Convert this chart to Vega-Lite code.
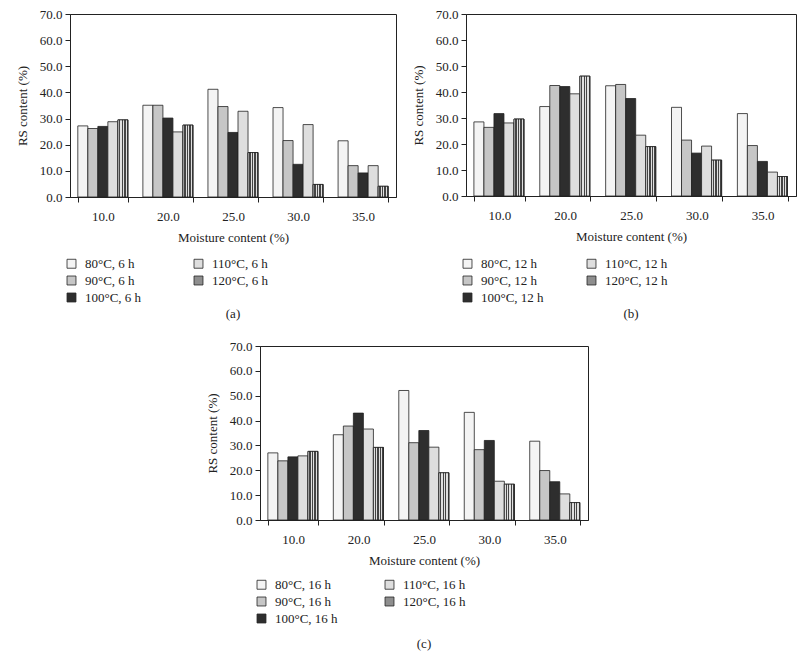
{
  "$schema": "https://vega.github.io/schema/vega-lite/v6.json",
  "background": "white",
  "padding": {"left": 15, "top": 7, "right": 5, "bottom": 5},
  "config": {
    "font": "Liberation Serif, Times New Roman, serif",
    "view": {"stroke": "#222", "strokeWidth": 1},
    "axis": {"labelFont": "Liberation Serif, Times New Roman, serif", "titleFont": "Liberation Serif, Times New Roman, serif", "labelFontSize": 13, "titleFontSize": 13, "labelColor": "#222", "titleColor": "#222", "titleFontWeight": "normal", "domainColor": "#222", "tickColor": "#222", "grid": false},
    "legend": {"labelFont": "Liberation Serif, Times New Roman, serif", "labelFontSize": 13, "labelColor": "#222"},
    "title": {"font": "Liberation Serif, Times New Roman, serif", "fontSize": 13, "fontWeight": "normal", "color": "#222"}
  },
  "datasets": {
    "rs": [
      {"p": "a", "m": "10.0", "s": "80", "v": 27.2}, {"p": "a", "m": "10.0", "s": "90", "v": 26.2}, {"p": "a", "m": "10.0", "s": "100", "v": 27.0}, {"p": "a", "m": "10.0", "s": "110", "v": 28.8}, {"p": "a", "m": "10.0", "s": "120", "v": 29.5},
      {"p": "a", "m": "20.0", "s": "80", "v": 35.1}, {"p": "a", "m": "20.0", "s": "90", "v": 35.1}, {"p": "a", "m": "20.0", "s": "100", "v": 30.2}, {"p": "a", "m": "20.0", "s": "110", "v": 24.9}, {"p": "a", "m": "20.0", "s": "120", "v": 27.5},
      {"p": "a", "m": "25.0", "s": "80", "v": 41.2}, {"p": "a", "m": "25.0", "s": "90", "v": 34.6}, {"p": "a", "m": "25.0", "s": "100", "v": 24.7}, {"p": "a", "m": "25.0", "s": "110", "v": 32.8}, {"p": "a", "m": "25.0", "s": "120", "v": 17.0},
      {"p": "a", "m": "30.0", "s": "80", "v": 34.2}, {"p": "a", "m": "30.0", "s": "90", "v": 21.6}, {"p": "a", "m": "30.0", "s": "100", "v": 12.5}, {"p": "a", "m": "30.0", "s": "110", "v": 27.7}, {"p": "a", "m": "30.0", "s": "120", "v": 4.8},
      {"p": "a", "m": "35.0", "s": "80", "v": 21.5}, {"p": "a", "m": "35.0", "s": "90", "v": 12.0}, {"p": "a", "m": "35.0", "s": "100", "v": 9.2}, {"p": "a", "m": "35.0", "s": "110", "v": 12.0}, {"p": "a", "m": "35.0", "s": "120", "v": 4.1},
      {"p": "b", "m": "10.0", "s": "80", "v": 28.5}, {"p": "b", "m": "10.0", "s": "90", "v": 26.4}, {"p": "b", "m": "10.0", "s": "100", "v": 31.7}, {"p": "b", "m": "10.0", "s": "110", "v": 28.1}, {"p": "b", "m": "10.0", "s": "120", "v": 29.6},
      {"p": "b", "m": "20.0", "s": "80", "v": 34.4}, {"p": "b", "m": "20.0", "s": "90", "v": 42.5}, {"p": "b", "m": "20.0", "s": "100", "v": 42.1}, {"p": "b", "m": "20.0", "s": "110", "v": 39.3}, {"p": "b", "m": "20.0", "s": "120", "v": 46.1},
      {"p": "b", "m": "25.0", "s": "80", "v": 42.4}, {"p": "b", "m": "25.0", "s": "90", "v": 42.9}, {"p": "b", "m": "25.0", "s": "100", "v": 37.5}, {"p": "b", "m": "25.0", "s": "110", "v": 23.4}, {"p": "b", "m": "25.0", "s": "120", "v": 19.0},
      {"p": "b", "m": "30.0", "s": "80", "v": 34.1}, {"p": "b", "m": "30.0", "s": "90", "v": 21.5}, {"p": "b", "m": "30.0", "s": "100", "v": 16.5}, {"p": "b", "m": "30.0", "s": "110", "v": 19.2}, {"p": "b", "m": "30.0", "s": "120", "v": 13.8},
      {"p": "b", "m": "35.0", "s": "80", "v": 31.7}, {"p": "b", "m": "35.0", "s": "90", "v": 19.4}, {"p": "b", "m": "35.0", "s": "100", "v": 13.3}, {"p": "b", "m": "35.0", "s": "110", "v": 9.2}, {"p": "b", "m": "35.0", "s": "120", "v": 7.5},
      {"p": "c", "m": "10.0", "s": "80", "v": 27.0}, {"p": "c", "m": "10.0", "s": "90", "v": 23.8}, {"p": "c", "m": "10.0", "s": "100", "v": 25.4}, {"p": "c", "m": "10.0", "s": "110", "v": 25.8}, {"p": "c", "m": "10.0", "s": "120", "v": 27.6},
      {"p": "c", "m": "20.0", "s": "80", "v": 34.3}, {"p": "c", "m": "20.0", "s": "90", "v": 37.8}, {"p": "c", "m": "20.0", "s": "100", "v": 43.0}, {"p": "c", "m": "20.0", "s": "110", "v": 36.6}, {"p": "c", "m": "20.0", "s": "120", "v": 29.2},
      {"p": "c", "m": "25.0", "s": "80", "v": 52.1}, {"p": "c", "m": "25.0", "s": "90", "v": 31.1}, {"p": "c", "m": "25.0", "s": "100", "v": 36.0}, {"p": "c", "m": "25.0", "s": "110", "v": 29.3}, {"p": "c", "m": "25.0", "s": "120", "v": 19.0},
      {"p": "c", "m": "30.0", "s": "80", "v": 43.3}, {"p": "c", "m": "30.0", "s": "90", "v": 28.3}, {"p": "c", "m": "30.0", "s": "100", "v": 32.0}, {"p": "c", "m": "30.0", "s": "110", "v": 15.6}, {"p": "c", "m": "30.0", "s": "120", "v": 14.4},
      {"p": "c", "m": "35.0", "s": "80", "v": 31.7}, {"p": "c", "m": "35.0", "s": "90", "v": 19.9}, {"p": "c", "m": "35.0", "s": "100", "v": 15.4}, {"p": "c", "m": "35.0", "s": "110", "v": 10.5}, {"p": "c", "m": "35.0", "s": "120", "v": 7.0}
    ],
    "blank": [{"k": 1}]
  },
  "spacing": 17,
  "resolve": {"scale": {"fill": "independent"}, "legend": {"fill": "independent"}},
  "vconcat": [
    {
      "spacing": 14,
      "resolve": {"scale": {"fill": "independent"}, "legend": {"fill": "independent"}},
      "hconcat": [
        {
          "width": 326, "height": 183,
          "data": {"name": "rs"},
          "transform": [{"filter": "datum.p === 'a'"}],
          "title": {"text": "(a)", "orient": "bottom", "anchor": "middle", "frame": "group", "offset": 3},
          "encoding": {
            "x": {"field": "m", "type": "nominal", "sort": null, "scale": {"paddingInner": 0.23, "paddingOuter": 0.12}, "axis": {"title": "Moisture content (%)", "labelAngle": 0, "tickBand": "extent", "labelPadding": 8, "titlePadding": 8, "tickSize": 5}},
            "xOffset": {"field": "s", "type": "nominal", "scale": {"domain": ["80", "90", "100", "110", "120"], "paddingInner": 0, "paddingOuter": 0}},
            "y": {"field": "v", "type": "quantitative", "scale": {"domain": [0, 70]}, "axis": {"title": "RS content (%)", "values": [0, 10, 20, 30, 40, 50, 60, 70], "format": ".1f", "tickSize": 5, "labelPadding": 3, "titlePadding": 10}}
          },
          "layer": [
            {
              "mark": {"type": "bar", "stroke": "#222", "strokeWidth": 0.8},
              "encoding": {
                "fill": {"field": "s", "type": "nominal", "scale": {"domain": ["80", "110", "90", "120", "100"], "range": ["#f4f4f4", "#dedede", "#c6c6c6", "#8e8e8e", "#2e2e2e"]},
                  "legend": {"title": null, "orient": "none", "legendX": -5, "legendY": 243, "columns": 2, "direction": "horizontal", "columnPadding": 50, "rowPadding": 3, "symbolType": "square", "symbolSize": 80, "symbolStrokeColor": "#222", "symbolStrokeWidth": 0.8, "labelExpr": "datum.label + '°C, 6 h'", "labelOffset": 7}}
              }
            },
            {
              "transform": [{"filter": "datum.s === '120'"}],
              "mark": {"type": "bar", "stroke": "#222", "strokeWidth": 0.8, "fill": {"gradient": "linear", "x1": 0, "y1": 0, "x2": 1, "y2": 0, "stops": [{"offset": 0, "color": "#e0e0e0"}, {"offset": 0.12, "color": "#e0e0e0"}, {"offset": 0.12, "color": "#444"}, {"offset": 0.26, "color": "#444"}, {"offset": 0.26, "color": "#e0e0e0"}, {"offset": 0.37, "color": "#e0e0e0"}, {"offset": 0.37, "color": "#444"}, {"offset": 0.51, "color": "#444"}, {"offset": 0.51, "color": "#e0e0e0"}, {"offset": 0.62, "color": "#e0e0e0"}, {"offset": 0.62, "color": "#444"}, {"offset": 0.76, "color": "#444"}, {"offset": 0.76, "color": "#e0e0e0"}, {"offset": 0.87, "color": "#e0e0e0"}, {"offset": 0.87, "color": "#444"}, {"offset": 1, "color": "#444"}]}}
            }
          ]
        },
        {
          "width": 330, "height": 182,
          "data": {"name": "rs"},
          "transform": [{"filter": "datum.p === 'b'"}],
          "title": {"text": "(b)", "orient": "bottom", "anchor": "middle", "frame": "group", "offset": 3},
          "encoding": {
            "x": {"field": "m", "type": "nominal", "sort": null, "scale": {"paddingInner": 0.23, "paddingOuter": 0.12}, "axis": {"title": "Moisture content (%)", "labelAngle": 0, "tickBand": "extent", "labelPadding": 8, "titlePadding": 8, "tickSize": 5}},
            "xOffset": {"field": "s", "type": "nominal", "scale": {"domain": ["80", "90", "100", "110", "120"], "paddingInner": 0, "paddingOuter": 0}},
            "y": {"field": "v", "type": "quantitative", "scale": {"domain": [0, 70]}, "axis": {"title": "RS content (%)", "values": [0, 10, 20, 30, 40, 50, 60, 70], "format": ".1f", "tickSize": 5, "labelPadding": 3, "titlePadding": 10}}
          },
          "layer": [
            {
              "mark": {"type": "bar", "stroke": "#222", "strokeWidth": 0.8},
              "encoding": {
                "fill": {"field": "s", "type": "nominal", "scale": {"domain": ["80", "110", "90", "120", "100"], "range": ["#f4f4f4", "#dedede", "#c6c6c6", "#8e8e8e", "#2e2e2e"]},
                  "legend": {"title": null, "orient": "none", "legendX": -5, "legendY": 243, "columns": 2, "direction": "horizontal", "columnPadding": 41, "rowPadding": 3, "symbolType": "square", "symbolSize": 80, "symbolStrokeColor": "#222", "symbolStrokeWidth": 0.8, "labelExpr": "datum.label + '°C, 12 h'", "labelOffset": 7}}
              }
            },
            {
              "transform": [{"filter": "datum.s === '120'"}],
              "mark": {"type": "bar", "stroke": "#222", "strokeWidth": 0.8, "fill": {"gradient": "linear", "x1": 0, "y1": 0, "x2": 1, "y2": 0, "stops": [{"offset": 0, "color": "#e0e0e0"}, {"offset": 0.12, "color": "#e0e0e0"}, {"offset": 0.12, "color": "#444"}, {"offset": 0.26, "color": "#444"}, {"offset": 0.26, "color": "#e0e0e0"}, {"offset": 0.37, "color": "#e0e0e0"}, {"offset": 0.37, "color": "#444"}, {"offset": 0.51, "color": "#444"}, {"offset": 0.51, "color": "#e0e0e0"}, {"offset": 0.62, "color": "#e0e0e0"}, {"offset": 0.62, "color": "#444"}, {"offset": 0.76, "color": "#444"}, {"offset": 0.76, "color": "#e0e0e0"}, {"offset": 0.87, "color": "#e0e0e0"}, {"offset": 0.87, "color": "#444"}, {"offset": 1, "color": "#444"}]}}
            }
          ]
        }
      ]
    },
    {
      "spacing": 14,
      "resolve": {"scale": {"fill": "independent"}, "legend": {"fill": "independent"}},
      "hconcat": [
        {
          "width": 121, "height": 10,
          "view": {"stroke": null},
          "data": {"name": "blank"},
          "mark": {"type": "point", "opacity": 0},
          "encoding": {}
        },
        {
          "width": 328, "height": 174,
          "data": {"name": "rs"},
          "transform": [{"filter": "datum.p === 'c'"}],
          "title": {"text": "(c)", "orient": "bottom", "anchor": "middle", "frame": "group", "offset": 12},
          "encoding": {
            "x": {"field": "m", "type": "nominal", "sort": null, "scale": {"paddingInner": 0.23, "paddingOuter": 0.12}, "axis": {"title": "Moisture content (%)", "labelAngle": 0, "tickBand": "extent", "labelPadding": 8, "titlePadding": 8, "tickSize": 5}},
            "xOffset": {"field": "s", "type": "nominal", "scale": {"domain": ["80", "90", "100", "110", "120"], "paddingInner": 0, "paddingOuter": 0}},
            "y": {"field": "v", "type": "quantitative", "scale": {"domain": [0, 70]}, "axis": {"title": "RS content (%)", "values": [0, 10, 20, 30, 40, 50, 60, 70], "format": ".1f", "tickSize": 5, "labelPadding": 3, "titlePadding": 10}}
          },
          "layer": [
            {
              "mark": {"type": "bar", "stroke": "#222", "strokeWidth": 0.8},
              "encoding": {
                "fill": {"field": "s", "type": "nominal", "scale": {"domain": ["80", "110", "90", "120", "100"], "range": ["#f4f4f4", "#dedede", "#c6c6c6", "#8e8e8e", "#2e2e2e"]},
                  "legend": {"title": null, "orient": "none", "legendX": -5, "legendY": 232, "columns": 2, "direction": "horizontal", "columnPadding": 45, "rowPadding": 3, "symbolType": "square", "symbolSize": 80, "symbolStrokeColor": "#222", "symbolStrokeWidth": 0.8, "labelExpr": "datum.label + '°C, 16 h'", "labelOffset": 7}}
              }
            },
            {
              "transform": [{"filter": "datum.s === '120'"}],
              "mark": {"type": "bar", "stroke": "#222", "strokeWidth": 0.8, "fill": {"gradient": "linear", "x1": 0, "y1": 0, "x2": 1, "y2": 0, "stops": [{"offset": 0, "color": "#e0e0e0"}, {"offset": 0.12, "color": "#e0e0e0"}, {"offset": 0.12, "color": "#444"}, {"offset": 0.26, "color": "#444"}, {"offset": 0.26, "color": "#e0e0e0"}, {"offset": 0.37, "color": "#e0e0e0"}, {"offset": 0.37, "color": "#444"}, {"offset": 0.51, "color": "#444"}, {"offset": 0.51, "color": "#e0e0e0"}, {"offset": 0.62, "color": "#e0e0e0"}, {"offset": 0.62, "color": "#444"}, {"offset": 0.76, "color": "#444"}, {"offset": 0.76, "color": "#e0e0e0"}, {"offset": 0.87, "color": "#e0e0e0"}, {"offset": 0.87, "color": "#444"}, {"offset": 1, "color": "#444"}]}}
            }
          ]
        }
      ]
    }
  ]
}
